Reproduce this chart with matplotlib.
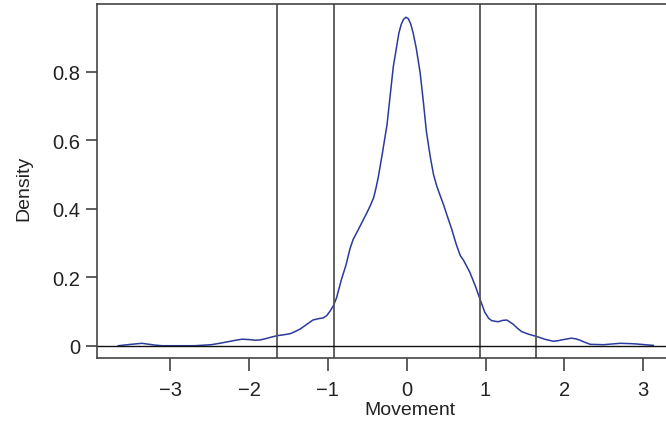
import matplotlib
matplotlib.use("Agg")
import matplotlib.pyplot as plt

# density curve (Movement, Density)
movement = [-3.66, -3.50, -3.36, -3.20, -3.11, -2.90, -2.69, -2.48, -2.35, -2.26,
            -2.17, -2.09, -2.00, -1.92, -1.86, -1.80, -1.72, -1.65, -1.56, -1.48,
            -1.42, -1.35, -1.27, -1.19, -1.12, -1.06, -1.015, -0.97, -0.93, -0.89,
            -0.83, -0.77, -0.72, -0.68, -0.63, -0.59, -0.51, -0.46, -0.42, -0.39,
            -0.36, -0.31, -0.25, -0.21, -0.17, -0.13, -0.10, -0.07, -0.04, -0.01,
            0.02, 0.05, 0.08, 0.12, 0.17, 0.21, 0.25, 0.30, 0.34, 0.38,
            0.43, 0.47, 0.52, 0.57, 0.63, 0.68, 0.72, 0.80, 0.87, 0.93,
            0.99, 1.04, 1.08, 1.16, 1.22, 1.27, 1.35, 1.40, 1.46, 1.53,
            1.60, 1.65, 1.75, 1.86, 1.93, 1.99, 2.09, 2.15, 2.20, 2.26,
            2.33, 2.50, 2.60, 2.71, 2.85, 2.92, 3.02, 3.13]
density = [0.000, 0.004, 0.007, 0.002, 0.000, 0.000, 0.000, 0.003, 0.008, 0.012,
           0.016, 0.019, 0.018, 0.016, 0.017, 0.020, 0.025, 0.029, 0.032, 0.035,
           0.041, 0.049, 0.062, 0.075, 0.079, 0.081, 0.088, 0.102, 0.117, 0.140,
           0.192, 0.236, 0.283, 0.310, 0.332, 0.350, 0.386, 0.410, 0.432, 0.460,
           0.493, 0.560, 0.645, 0.730, 0.815, 0.870, 0.912, 0.938, 0.953, 0.959,
           0.955, 0.940, 0.915, 0.870, 0.798, 0.715, 0.625, 0.550, 0.500, 0.467,
           0.435, 0.410, 0.375, 0.341, 0.295, 0.263, 0.250, 0.215, 0.175, 0.136,
           0.098, 0.080, 0.073, 0.070, 0.074, 0.075, 0.063, 0.052, 0.041, 0.035,
           0.030, 0.027, 0.019, 0.013, 0.015, 0.018, 0.022, 0.020, 0.016, 0.010,
           0.004, 0.003, 0.005, 0.007, 0.006, 0.005, 0.003, 0.001]

# reference lines
cutoffs = [-1.645, -0.925, 0.925, 1.645]

x_ticks = [-3, -2, -1, 0, 1, 2, 3]
y_ticks = [0, 0.2, 0.4, 0.6, 0.8]
y_tick_labels = ["0", "0.2", "0.4", "0.6", "0.8"]

plt.rcParams['font.family'] = ['Liberation Sans', 'DejaVu Sans']

fig = plt.figure(figsize=(6.66, 4.27), dpi=100)
ax = fig.add_axes([0.1452, 0.1585, 0.9404, 0.8298])

ax.plot(movement, density, color='#2b3a9c', lw=1.1, solid_joinstyle='round')
for c in cutoffs:
    ax.axvline(c, color='#555555', lw=1.3)
ax.axhline(0, color='#111111', lw=1.0)

ax.set_xlim(-3.934, 4.014)
ax.set_ylim(-0.0368, 0.9977)

ax.set_xticks(x_ticks)
ax.set_xticklabels([str(t).replace('-', '\u2212') for t in x_ticks])
ax.set_yticks(y_ticks)
ax.set_yticklabels(y_tick_labels)
ax.tick_params(axis='x', length=9, width=1.1, color='#333333', pad=6.5,
               labelsize=14.5, labelcolor='#222222')
ax.tick_params(axis='y', length=7.7, width=1.1, color='#333333', pad=4.3,
               labelsize=14.5, labelcolor='#222222')

for s in ax.spines.values():
    s.set_color('#444444')
    s.set_linewidth(1.2)

fig.text(24 / 666, 1 - 188 / 427, 'Density', rotation=90, ha='center', va='center',
         fontsize=14, color='#222222')
fig.text(410 / 666, 1 - 411 / 427, 'Movement', ha='center', va='center',
         fontsize=14, color='#222222')

fig.savefig('out.png', dpi=100)
